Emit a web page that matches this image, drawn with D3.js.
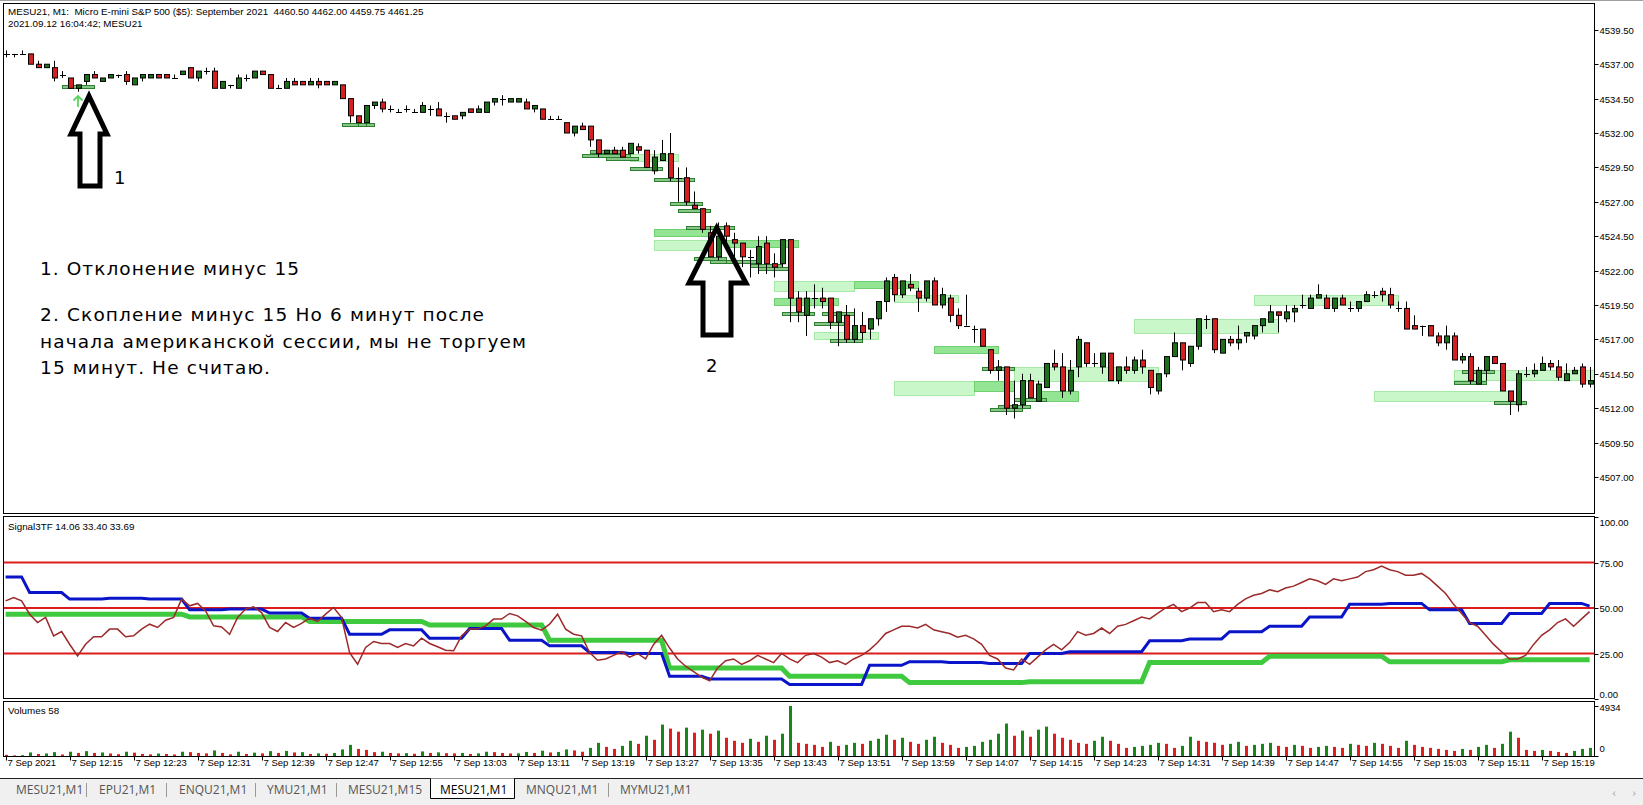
<!DOCTYPE html>
<html><head><meta charset="utf-8">
<script src="https://cdn.jsdelivr.net/npm/d3@7"></script>
<style>body{margin:0;background:#fff;overflow:hidden}svg{display:block}</style>
</head><body><svg id="c" width="1643" height="805"></svg>
<script>
// ---------- DATA ----------
const open=[4537.75,4537.75,4537.75,4537.75,4537.0,4536.75,4536.75,4536.25,4536.0,4535.25,4535.75,4536.25,4535.75,4536.0,4536.25,4536.25,4535.5,4536.0,4536.0,4536.25,4536.25,4536.0,4536.25,4536.75,4536.0,4536.5,4536.5,4535.25,4535.5,4535.25,4536.0,4536.0,4536.5,4536.25,4535.25,4535.25,4535.75,4535.75,4535.5,4535.75,4535.75,4535.5,4535.5,4534.5,4533.25,4532.75,4534.0,4534.25,4533.75,4533.5,4533.75,4533.5,4533.5,4533.75,4533.75,4533.25,4533.25,4533.25,4533.75,4533.5,4533.5,4534.25,4534.5,4534.25,4534.25,4534.25,4533.75,4533.75,4533.0,4533.0,4532.75,4532.0,4532.5,4532.5,4531.5,4530.5,4530.75,4530.75,4530.5,4531.0,4530.75,4529.25,4530.0,4530.5,4528.75,4528.75,4526.75,4526.5,4524.75,4523.0,4525.25,4524.25,4524.0,4523.0,4522.5,4524.0,4522.5,4522.5,4524.25,4520.0,4518.75,4520.0,4520.0,4520.0,4518.25,4518.75,4517.0,4518.0,4517.75,4518.5,4519.75,4521.5,4520.25,4521.0,4520.5,4520.0,4521.25,4519.5,4520.0,4518.75,4518.0,4517.75,4517.75,4516.25,4514.75,4515.0,4512.0,4512.25,4514.0,4512.5,4513.5,4515.25,4515.0,4513.25,4515.0,4516.75,4515.25,4515.0,4516.0,4514.0,4515.0,4514.75,4515.5,4514.75,4513.25,4514.5,4515.75,4516.75,4515.25,4516.5,4518.5,4518.5,4516.0,4517.0,4516.75,4517.25,4517.25,4518.0,4518.25,4519.0,4518.5,4519.0,4519.5,4519.25,4520.0,4520.0,4519.25,4520.0,4519.25,4519.25,4519.75,4520.25,4520.5,4520.25,4519.25,4519.25,4518.0,4518.0,4518.0,4517.25,4516.75,4517.25,4515.5,4515.75,4513.75,4514.75,4515.75,4515.25,4513.25,4512.25,4514.5,4514.5,4514.75,4515.25,4515.0,4514.0,4514.5,4515.0,4513.75];
const high=[4538.0,4537.75,4538.0,4537.75,4537.25,4537.0,4537.25,4536.5,4536.0,4535.5,4536.25,4536.5,4536.0,4536.25,4536.25,4536.5,4536.0,4536.25,4536.25,4536.25,4536.25,4536.25,4536.5,4536.75,4536.5,4536.75,4536.75,4535.75,4535.5,4536.25,4536.25,4536.5,4536.5,4536.25,4535.5,4536.0,4536.0,4535.75,4536.0,4536.0,4535.75,4535.75,4535.5,4534.5,4533.25,4534.0,4534.25,4534.5,4534.0,4533.75,4534.0,4533.75,4534.25,4534.0,4534.25,4533.5,4533.25,4533.5,4533.75,4534.0,4534.25,4534.5,4534.75,4534.5,4534.5,4534.5,4534.0,4533.75,4533.25,4533.25,4532.75,4532.5,4532.75,4532.5,4531.5,4530.75,4531.0,4531.0,4531.25,4531.25,4530.75,4530.75,4531.5,4532.0,4529.5,4529.5,4527.75,4526.5,4525.25,4525.5,4525.5,4524.75,4524.0,4523.5,4524.5,4524.5,4523.25,4524.25,4524.25,4520.5,4520.5,4521.0,4520.75,4520.0,4519.0,4519.5,4519.25,4519.0,4518.5,4519.75,4521.5,4521.75,4521.25,4521.75,4520.75,4521.25,4521.5,4520.75,4520.25,4519.25,4520.25,4518.0,4517.75,4516.25,4515.5,4515.0,4514.0,4514.5,4514.5,4514.0,4515.25,4516.25,4516.0,4515.5,4517.25,4516.75,4516.0,4516.0,4516.0,4515.0,4515.75,4515.75,4516.25,4514.75,4514.5,4515.75,4517.5,4516.75,4516.5,4518.5,4518.75,4518.5,4517.0,4517.25,4518.0,4517.5,4518.0,4518.5,4519.5,4519.0,4519.5,4519.5,4520.25,4520.25,4521.0,4520.25,4520.0,4520.25,4519.75,4519.75,4520.5,4520.5,4520.75,4520.75,4519.75,4519.75,4518.75,4518.0,4518.0,4517.5,4518.0,4517.5,4516.0,4516.0,4515.0,4515.75,4515.75,4515.25,4513.25,4514.75,4515.0,4515.25,4515.75,4515.5,4515.5,4515.25,4515.0,4515.25,4515.0];
const low=[4537.5,4537.5,4537.75,4537.0,4536.75,4536.75,4535.75,4536.0,4535.25,4535.0,4535.5,4536.0,4535.75,4536.0,4536.0,4535.5,4535.5,4535.75,4536.0,4536.0,4536.0,4536.0,4536.25,4536.0,4535.75,4536.25,4535.25,4535.25,4535.25,4535.25,4535.75,4536.0,4536.25,4535.25,4535.25,4535.25,4535.5,4535.5,4535.5,4535.25,4535.5,4535.5,4534.5,4532.75,4532.75,4532.75,4533.75,4533.5,4533.5,4533.5,4533.5,4533.5,4533.5,4533.25,4533.25,4532.75,4533.0,4533.0,4533.5,4533.5,4533.5,4534.0,4534.0,4534.25,4534.25,4533.75,4533.5,4533.0,4533.0,4533.0,4532.0,4531.75,4532.25,4531.0,4530.25,4530.5,4530.5,4530.25,4530.5,4530.5,4529.5,4529.0,4530.0,4528.5,4527.0,4526.75,4526.5,4524.75,4523.0,4522.75,4523.75,4522.75,4522.25,4521.5,4521.75,4521.75,4521.5,4522.25,4518.25,4518.25,4517.25,4519.25,4519.25,4517.75,4516.5,4516.75,4516.75,4517.0,4517.0,4518.0,4519.0,4519.75,4520.0,4520.5,4519.0,4519.75,4519.5,4519.25,4518.25,4517.75,4518.0,4516.75,4516.5,4514.5,4514.0,4511.5,4511.25,4512.0,4512.75,4512.5,4513.5,4514.75,4512.75,4513.0,4514.25,4515.0,4515.0,4514.5,4514.0,4513.75,4514.5,4514.5,4514.5,4513.0,4513.0,4514.25,4515.75,4514.75,4515.0,4516.25,4517.75,4516.0,4516.0,4516.5,4516.25,4516.75,4517.0,4517.5,4518.25,4517.5,4518.25,4518.25,4519.25,4519.25,4520.0,4519.25,4519.0,4519.5,4519.0,4519.0,4519.75,4520.0,4519.75,4519.25,4519.0,4517.75,4517.75,4517.25,4517.25,4516.5,4516.25,4515.5,4515.25,4513.75,4513.75,4514.0,4515.25,4513.25,4511.5,4511.75,4514.25,4514.25,4514.75,4514.75,4514.0,4514.0,4514.5,4513.5,4513.5];
const close=[4537.75,4537.75,4537.75,4537.0,4536.75,4537.0,4536.0,4536.25,4535.25,4535.5,4536.25,4536.0,4536.0,4536.25,4536.25,4535.75,4536.0,4536.25,4536.25,4536.0,4536.0,4536.0,4536.5,4536.0,4536.5,4536.5,4535.25,4535.75,4535.5,4536.0,4536.0,4536.5,4536.25,4535.25,4535.25,4535.75,4535.5,4535.5,4535.75,4535.5,4535.5,4535.75,4534.5,4533.25,4532.75,4534.0,4534.25,4533.75,4533.75,4533.5,4533.75,4533.5,4534.0,4533.75,4533.25,4533.25,4533.0,4533.5,4533.5,4533.75,4534.25,4534.5,4534.5,4534.5,4534.5,4533.75,4534.0,4533.0,4533.0,4533.0,4532.0,4532.5,4532.25,4531.5,4530.5,4530.75,4530.5,4530.25,4531.25,4530.75,4529.5,4530.25,4530.5,4528.75,4528.75,4527.0,4526.5,4525.0,4523.0,4524.5,4524.5,4524.0,4523.0,4523.0,4523.75,4522.5,4522.25,4524.25,4520.0,4519.0,4520.0,4520.0,4519.75,4518.25,4519.0,4517.0,4518.0,4517.5,4518.5,4519.75,4521.25,4520.25,4521.25,4520.75,4520.0,4521.25,4519.5,4520.25,4518.75,4518.0,4518.0,4517.75,4516.5,4514.75,4515.0,4512.0,4512.25,4514.0,4512.75,4513.75,4515.25,4515.0,4513.25,4514.75,4517.0,4515.25,4515.25,4516.0,4514.0,4515.0,4514.75,4515.5,4515.0,4513.5,4514.5,4515.75,4516.75,4515.5,4516.5,4518.5,4518.5,4516.25,4517.0,4516.75,4517.0,4517.5,4518.0,4518.5,4519.0,4518.75,4519.0,4519.25,4519.5,4520.0,4520.25,4519.25,4520.0,4519.5,4519.25,4519.75,4520.25,4520.25,4520.25,4519.5,4519.25,4517.75,4517.75,4518.0,4517.25,4516.75,4517.25,4515.5,4515.75,4514.0,4514.75,4515.75,4515.25,4513.25,4512.5,4514.5,4514.5,4514.75,4515.25,4515.0,4514.25,4514.5,4514.75,4513.75,4514.0];
const volume=[120,60,80,350,200,250,380,150,420,300,480,300,350,250,180,420,330,200,160,240,200,150,420,380,300,260,550,300,160,420,200,330,260,480,300,500,350,380,200,260,220,300,650,1100,700,600,380,420,300,260,280,220,450,300,360,280,260,300,200,260,420,380,300,250,260,400,300,520,350,400,650,550,420,800,1300,900,700,1000,1500,1200,2000,1600,3100,2700,2400,2800,2300,2600,2200,2500,1800,1500,1300,1700,1400,2000,1600,2200,4934,1300,1200,1100,900,1400,1000,1100,1300,1200,1500,1700,2100,1600,1800,1400,1200,1600,1900,1300,1100,800,900,1000,1400,1600,2200,3200,2000,2500,1900,2600,2900,2200,1800,1600,1300,1200,1500,1900,1500,1200,800,900,1000,1100,1300,1200,800,1000,1900,1500,1400,1300,1100,1200,1400,1000,1100,1200,1300,1000,900,1100,1000,800,900,1000,900,800,1200,1100,1000,1300,1200,1000,800,1500,1100,900,800,700,600,500,700,600,900,1100,800,1200,2400,1800,600,500,600,500,400,300,500,700,800];
const blueLine=[67.1,67.1,67.1,58.5,58.5,58.5,58.5,58.5,54.9,54.9,54.9,54.9,54.9,55.4,55.4,55.4,55.4,55.4,54.9,54.9,54.9,54.9,54.9,49.0,49.0,49.0,49.0,49.0,49.4,49.4,49.4,49.4,49.4,47.2,47.2,47.2,47.2,47.2,44.4,44.4,44.4,44.4,44.4,35.6,35.6,35.6,35.6,35.6,38.0,38.0,38.0,38.0,38.0,33.4,33.4,33.4,33.4,33.4,38.7,38.7,38.7,38.7,38.7,32.3,32.3,32.3,32.3,32.3,29.2,29.2,29.2,29.2,29.2,25.5,25.5,25.5,25.5,25.5,25.0,25.0,25.0,25.0,25.0,12.5,12.5,12.5,12.5,12.5,11.0,11.0,11.0,11.0,11.0,11.0,11.0,11.0,11.0,11.0,8.0,8.0,8.0,8.0,8.0,8.0,8.0,8.0,8.0,8.0,18.5,18.5,18.5,18.5,18.5,20.5,20.5,20.5,20.5,20.5,20.0,20.0,20.0,20.0,20.0,19.5,19.5,19.5,19.5,19.5,25.0,25.0,25.0,25.0,25.0,26.0,26.0,26.0,26.0,26.0,26.0,26.0,26.0,26.0,26.0,32.0,32.0,32.0,32.0,32.0,33.0,33.0,33.0,33.0,33.0,37.0,37.0,37.0,37.0,37.0,40.0,40.0,40.0,40.0,40.0,45.0,45.0,45.0,45.0,45.0,52.0,52.0,52.0,52.0,52.0,52.5,52.5,52.5,52.5,52.5,49.0,49.0,49.0,49.0,49.0,41.5,41.5,41.5,41.5,41.5,47.0,47.0,47.0,47.0,47.0,52.5,52.5,52.5,52.5,52.5,51.0];
const greenLine=[46.6,46.6,46.6,46.6,46.6,46.6,46.6,46.6,46.6,46.6,46.6,46.6,46.6,46.6,46.6,46.6,46.6,46.6,46.6,46.6,46.6,46.6,46.6,45.1,45.1,45.1,45.1,45.1,45.1,45.1,45.1,45.1,45.1,45.1,45.1,45.1,45.1,45.1,42.6,42.6,42.6,42.6,42.6,42.6,42.6,42.6,42.6,42.6,42.6,42.6,42.6,42.6,42.6,40.7,40.7,40.7,40.7,40.7,40.7,40.7,40.7,40.7,40.7,40.7,40.7,40.7,40.7,40.7,32.3,32.3,32.3,32.3,32.3,32.3,32.3,32.3,32.3,32.3,32.3,32.3,32.3,32.3,32.3,17.0,17.0,17.0,17.0,17.0,17.0,17.0,17.0,17.0,17.0,17.0,17.0,17.0,17.0,17.0,12.5,12.5,12.5,12.5,12.5,12.5,12.5,12.5,12.5,12.5,12.5,12.5,12.5,12.5,12.5,9.0,9.0,9.0,9.0,9.0,9.0,9.0,9.0,9.0,9.0,9.0,9.0,9.0,9.0,9.0,9.5,9.5,9.5,9.5,9.5,9.5,9.5,9.5,9.5,9.5,9.5,9.5,9.5,9.5,9.5,20.0,20.0,20.0,20.0,20.0,20.0,20.0,20.0,20.0,20.0,20.0,20.0,20.0,20.0,20.0,23.5,23.5,23.5,23.5,23.5,23.5,23.5,23.5,23.5,23.5,23.5,23.5,23.5,23.5,23.5,20.5,20.5,20.5,20.5,20.5,20.5,20.5,20.5,20.5,20.5,20.5,20.5,20.5,20.5,20.5,21.5,21.5,21.5,21.5,21.5,21.5,21.5,21.5,21.5,21.5,21.5];
const brownLine=[53.9,55.8,53.9,46.6,42.0,44.8,34.7,37.1,30.1,23.7,30.1,34.2,34.2,38.4,38.4,34.2,34.7,38.4,41.1,39.3,43.3,44.8,54.9,51.2,52.5,48.4,40.2,39.6,35.6,44.8,49.4,50.6,47.5,39.3,37.1,42.0,39.3,41.5,44.4,42.6,46.6,50.3,44.8,25.5,19.1,28.3,31.6,30.5,30.5,28.3,30.5,29.2,33.4,30.5,28.7,26.8,26.5,34.7,38.4,38.4,40.2,43.9,43.9,47.0,45.7,42.6,39.3,37.8,41.1,46.6,38.4,35.6,34.7,25.5,21.3,22,24,26,23,25,22,30,35,28,22,18,15,12,10,17,21,22,19,21,24,22,20,25,22,20,24,25,23,20,21,19,22,24,27,31,36,38,40,40,39,41,38,37,36,34,35,33,30,24,22,17,16,22,19,23,27,30,27,31,37,35,36,39,36,40,41,43,45,44,47,50,52,48,50,53,53,48,49,48,52,55,57,58,60,59,61,62,64,66,65,63,66,65,66,67,70,71,73,71,70,68,68,69,66,62,58,52,47,42,40,35,30,26,22,22,24,30,35,38,42,44,40,44,48];
const priceTicks=[4507.0,4509.5,4512.0,4514.5,4517.0,4519.5,4522.0,4524.5,4527.0,4529.5,4532.0,4534.5,4537.0,4539.5];
const levelTicks=[0,25,50,75,100];
const levelLines=[25,50,75];
const tickBars=[0,8,16,24,32,40,48,56,64,72,80,88,96,104,112,120,128,136,144,152,160,168,176,184,192];
const tickLabels=["7 Sep 2021","7 Sep 12:15","7 Sep 12:23","7 Sep 12:31","7 Sep 12:39","7 Sep 12:47","7 Sep 12:55","7 Sep 13:03","7 Sep 13:11","7 Sep 13:19","7 Sep 13:27","7 Sep 13:35","7 Sep 13:43","7 Sep 13:51","7 Sep 13:59","7 Sep 14:07","7 Sep 14:15","7 Sep 14:23","7 Sep 14:31","7 Sep 14:39","7 Sep 14:47","7 Sep 14:55","7 Sep 15:03","7 Sep 15:11","7 Sep 15:19"];
// zones: [fromBar, toBar, lowPrice, highPrice, kind]  l=light, m=medium, d=dark
const zones=[[78,84,4530.0,4530.5,"l"],[81,87.6,4523.5,4524.25,"l"],[81,88,4524.5,4525.0,"m"],[90,99,4523.75,4524.25,"m"],[96,106,4520.5,4521.25,"l"],[106,114,4520.75,4521.25,"m"],[96,104,4519.5,4520.0,"m"],[101,109,4517.0,4517.5,"l"],[111,119,4519.75,4520.25,"l"],[116,124,4516.0,4516.5,"m"],[111,121,4513.0,4514.0,"l"],[121,126,4513.25,4514.0,"m"],[126,144,4514.0,4515.0,"l"],[129,134,4512.5,4513.25,"m"],[141,159,4517.5,4518.5,"l"],[156,174,4519.5,4520.25,"l"],[181,199,4514.0,4514.75,"l"],[171,188,4512.5,4513.25,"l"],
[7,11,4535.25,4535.5,"d"],[42,46,4532.5,4532.75,"d"],[44,46,4532.5,4532.75,"d"],[45,46,4532.5,4532.75,"d"],[72,78,4530.25,4530.5,"d"],[73,77,4530.5,4530.75,"d"],[75,79,4530.0,4530.25,"d"],[78,82,4529.25,4529.5,"d"],[81,86,4528.5,4528.75,"d"],[83,87,4526.75,4527.0,"d"],[84,88,4526.25,4526.5,"d"],[85,91,4525.0,4525.25,"d"],[86,90,4522.75,4523.0,"d"],[88,92,4522.5,4522.75,"d"],[90,94,4522.5,4522.75,"d"],[93,97,4522.25,4522.5,"d"],[94,98,4522.0,4522.25,"d"],[97,101,4518.75,4519.0,"d"],[102,106,4518.75,4519.0,"d"],[101,105,4518.0,4518.25,"d"],[103,107,4516.75,4517.0,"d"],[122,126,4514.75,4515.0,"d"],[126,130,4512.5,4512.75,"d"],[124,128,4512.0,4512.25,"d"],[123,127,4511.75,4512.0,"d"],[182,186,4514.5,4514.75,"d"],[181,185,4513.75,4514.0,"d"],[186,190,4512.25,4512.5,"d"]];
const tabs=["MESU21,M1","EPU21,M1","ENQU21,M1","YMU21,M1","MESU21,M15","MESU21,M1","MNQU21,M1","MYMU21,M1"];
const activeTab=5;
const noteLines=["1. Отклонение минус 15","","2. Скопление минус 15 Но 6 минут после","начала американской сессии, мы не торгуем","15 минут. Не считаю."];

// ---------- LAYOUT ----------
const N=open.length;
const L=3.5,R=1594.5;
const mainP={t:3.5,b:513.5}, indP={t:516.5,b:698.5}, volP={t:701.5,b:756.5};
const x=d3.scaleLinear().domain([0,N-1]).range([5.6,5.6+8*(N-1)]);
const y=d3.scaleLinear().domain([4504.38,4541.45]).range([513,3]);
const yi=d3.scaleLinear().domain([0,100]).range([699,517]);
const yv=d3.scaleLinear().domain([0,4934]).range([756,706]);
const FONT="'Liberation Sans', Arial, sans-serif";
const svg=d3.select("#c");
svg.append("rect").attr("width",1643).attr("height",805).attr("fill","#fff");
const defs=svg.append("defs");
[["cm",mainP],["ci",indP],["cv",volP]].forEach(([id,p])=>{
  defs.append("clipPath").attr("id",id).append("rect").attr("x",L).attr("y",p.t).attr("width",R-L).attr("height",p.b-p.t);
});
svg.append("line").attr("x1",0).attr("x2",1643).attr("y1",0.5).attr("y2",0.5).attr("stroke","#a0a0a0");

// zones
const zc={l:{f:"#c9f7c9",s:"#a6e8a6"},m:{f:"#93e493",s:"#6fcf6f"},d:{f:"#86c686",s:"#2f7d2f"}};
const gz=svg.append("g").attr("clip-path","url(#cm)");
gz.selectAll("rect").data(zones).join("rect")
  .attr("x",d=>Math.round(x(d[0]))+0.5).attr("width",d=>Math.round(x(d[1])-x(d[0])))
  .attr("y",d=>Math.round(y(d[3]))+0.5).attr("height",d=>Math.max(3,Math.round(y(d[2])-y(d[3]))))
  .attr("fill",d=>zc[d[4]].f).attr("stroke",d=>zc[d[4]].s).attr("stroke-width",1);

// candles
const gc=svg.append("g").attr("clip-path","url(#cm)");
const idx=d3.range(N);
gc.selectAll("line.w").data(idx).join("line").attr("class","w")
  .attr("x1",i=>Math.round(x(i))+0.5).attr("x2",i=>Math.round(x(i))+0.5)
  .attr("y1",i=>y(high[i])).attr("y2",i=>y(low[i])).attr("stroke","#000").attr("stroke-width",1);
gc.selectAll("rect.b").data(idx.filter(i=>open[i]!==close[i])).join("rect").attr("class","b")
  .attr("x",i=>Math.round(x(i))-2+0.5).attr("width",5)
  .attr("y",i=>y(Math.max(open[i],close[i]))).attr("height",i=>Math.abs(y(open[i])-y(close[i])))
  .attr("fill",i=>close[i]>open[i]?"#1d6e1d":"#d42020").attr("stroke","#000").attr("stroke-width",1);
gc.selectAll("line.d").data(idx.filter(i=>open[i]===close[i])).join("line").attr("class","d")
  .attr("x1",i=>Math.round(x(i))-2).attr("x2",i=>Math.round(x(i))+4)
  .attr("y1",i=>Math.round(y(open[i]))+0.5).attr("y2",i=>Math.round(y(open[i]))+0.5).attr("stroke","#000");

// panel frames
[mainP,indP,volP].forEach(p=>svg.append("rect").attr("x",L).attr("y",p.t).attr("width",R-L).attr("height",p.b-p.t).attr("fill","none").attr("stroke","#000"));

// price axis
const ga=svg.append("g");
priceTicks.forEach(p=>{
  const yy=Math.round(y(p))+0.5;
  ga.append("line").attr("x1",R).attr("x2",R+4).attr("y1",yy).attr("y2",yy).attr("stroke","#000");
  ga.append("text").attr("x",R+5).attr("y",yy+3.5).text(p.toFixed(2)).attr("font-family",FONT).attr("font-size",9.5).attr("fill","#000");
});

// header texts
svg.append("text").attr("x",8).attr("y",15).attr("font-family",FONT).attr("font-size",9.8)
  .text("MESU21, M1:  Micro E-mini S&P 500 ($5): September 2021  4460.50 4462.00 4459.75 4461.25").attr("xml:space","preserve").style("white-space","pre");
svg.append("text").attr("x",8).attr("y",27).attr("font-family",FONT).attr("font-size",9.8).text("2021.09.12 16:04:42; MESU21");

// annotations
const ann=svg.append("g");
ann.append("path").attr("d","M89,96 L107,134 L100,134 L100,186 L80,186 L80,134 L71,134 Z").attr("fill","none").attr("stroke","#000").attr("stroke-width",5).attr("stroke-linejoin","miter");
ann.append("path").attr("d","M716.7,228 L746,283 L731,283 L731,335 L703,335 L703,283 L689,283 Z").attr("fill","none").attr("stroke","#000").attr("stroke-width",5).attr("stroke-linejoin","miter");
ann.append("path").attr("d","M78,107 L78,96 M73.5,100.5 L78,96 L82.5,100.5").attr("fill","none").attr("stroke","#5fd35f").attr("stroke-width",1.8);
const NF="'DejaVu Sans', Verdana, sans-serif";
ann.append("text").attr("x",114).attr("y",184).attr("font-family",NF).attr("font-size",18).text("1");
ann.append("text").attr("x",706).attr("y",372).attr("font-family",NF).attr("font-size",18).text("2");
const noteY=[275,0,321,348,374];
const noteW=[259,0,444,486,230];
noteLines.forEach((t,k)=>{ if(!t) return;
  ann.append("text").attr("x",40).attr("y",noteY[k]).attr("font-family",NF).attr("font-size",18.5).attr("textLength",noteW[k]).text(t);
});

// indicator
const gi=svg.append("g").attr("clip-path","url(#ci)");
levelLines.forEach(v=>gi.append("line").attr("x1",L).attr("x2",R).attr("y1",yi(v)).attr("y2",yi(v)).attr("stroke","#dd1c1c").attr("stroke-width",2));
const ln=d3.line().x((d,i)=>x(i)).y(d=>yi(d));
gi.append("path").attr("d",ln(greenLine)).attr("fill","none").attr("stroke","#3ec93e").attr("stroke-width",5);
gi.append("path").attr("d",ln(blueLine)).attr("fill","none").attr("stroke","#0a14c8").attr("stroke-width",3);
gi.append("path").attr("d",ln(brownLine)).attr("fill","none").attr("stroke","#9c2a2a").attr("stroke-width",1.5);
svg.append("text").attr("x",8).attr("y",530).attr("font-family",FONT).attr("font-size",9.8).text("Signal3TF 14.06 33.40 33.69");
levelTicks.forEach(v=>{
  const yy=Math.round(yi(v))+0.5;
  ga.append("line").attr("x1",R).attr("x2",R+4).attr("y1",yy).attr("y2",yy).attr("stroke","#000");
  const ty=v===100?yy+8:(v===0?yy-2:yy+3.5);
  ga.append("text").attr("x",R+5).attr("y",ty).text(v.toFixed(2)).attr("font-family",FONT).attr("font-size",9.5);
});

// volumes
const gv=svg.append("g").attr("clip-path","url(#cv)");
gv.selectAll("rect").data(idx).join("rect")
  .attr("x",i=>Math.round(x(i))-1).attr("width",3)
  .attr("y",i=>yv(volume[i])).attr("height",i=>yv(0)-yv(volume[i]))
  .attr("fill",i=>(i>0&&volume[i]>volume[i-1])?"#1a861a":"#e01e1e");
svg.append("text").attr("x",8).attr("y",714).attr("font-family",FONT).attr("font-size",9.8).text("Volumes 58");
[[4934,"4934",711],[0,"0",752]].forEach(([v,t,ty])=>{
  const yy=Math.round(yv(v))+0.5;
  ga.append("line").attr("x1",R).attr("x2",R+4).attr("y1",yy).attr("y2",yy).attr("stroke","#000");
  ga.append("text").attr("x",R+5).attr("y",ty).text(t).attr("font-family",FONT).attr("font-size",9.5);
});

// x axis
tickBars.forEach((b,k)=>{
  const xx=Math.round(x(b))+0.5;
  ga.append("line").attr("x1",xx).attr("x2",xx).attr("y1",volP.b).attr("y2",volP.b+4).attr("stroke","#000");
  ga.append("text").attr("x",xx+1).attr("y",766).text(tickLabels[k]).attr("font-family",FONT).attr("font-size",9.5);
});

// tab strip
svg.append("rect").attr("x",0).attr("y",778).attr("width",1643).attr("height",27).attr("fill","#f0f0f0");
svg.append("line").attr("x1",0).attr("x2",1643).attr("y1",778.5).attr("y2",778.5).attr("stroke","#222");
const tabX=[16,99,179,267,348,440,526,620];
const sepX=[86,166,255,336,null,null,608];
tabs.forEach((t,k)=>{
  if(k===activeTab){
    svg.append("path").attr("d","M430.5,778.5 V798.5 H514.5 V778.5").attr("fill","#fff").attr("stroke","#000");
  }
  svg.append("text").attr("x",tabX[k]).attr("y",794).text(t).attr("font-family","'Open Sans', sans-serif").attr("font-size",12).attr("fill",k===activeTab?"#000":"#555");
});
sepX.forEach(s=>{ if(s) svg.append("line").attr("x1",s+0.5).attr("x2",s+0.5).attr("y1",783).attr("y2",797).attr("stroke","#999"); });
svg.append("text").attr("x",1612).attr("y",796).text("‹").attr("fill","#aaa").attr("font-size",13);
svg.append("text").attr("x",1632).attr("y",796).text("›").attr("fill","#aaa").attr("font-size",13);
</script></body></html>
